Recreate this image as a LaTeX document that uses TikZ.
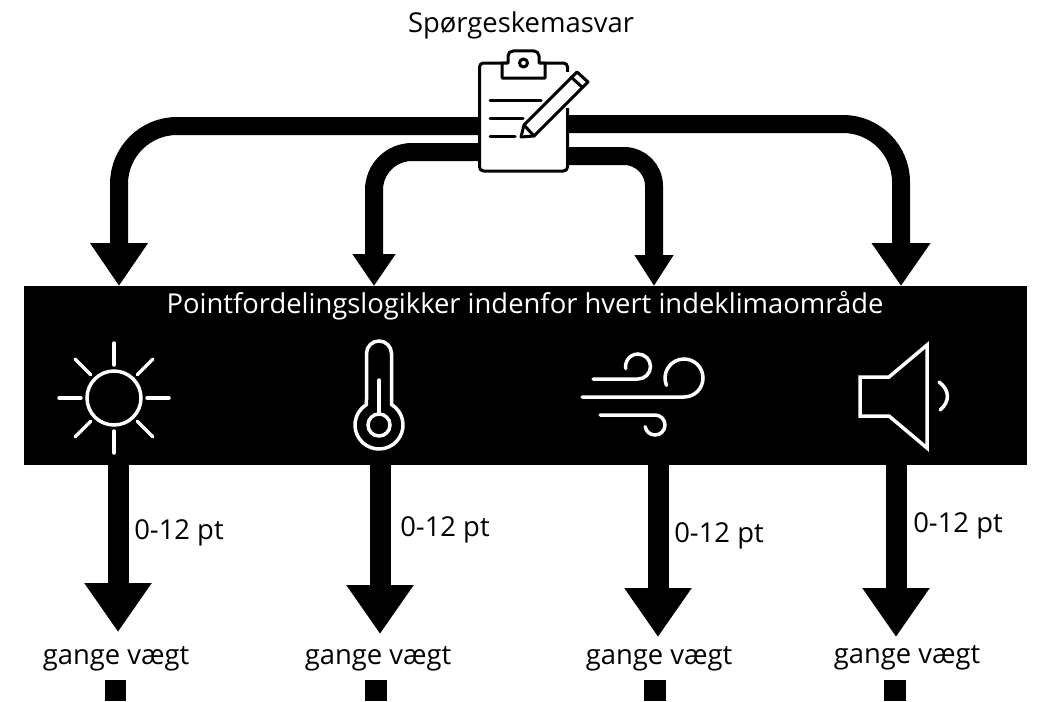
\documentclass[tikz,border=0pt]{standalone}
\usepackage{fontspec}
\setmainfont{Open Sans}
\usetikzlibrary{arrows.meta}
\tikzset{
  txt/.style={inner sep=0pt,font=\fontsize{27.4}{30}\selectfont},
  topline/.style={line width=18pt,rounded corners=#1},
  downline/.style={line width=21pt,-{Triangle[width=64pt,length=49pt]}},
  icon/.style={draw=white,line width=3.5pt,line cap=round},
  board/.style={draw=black,line width=3pt,line cap=round,line join=round}
}
\begin{document}
\begin{tikzpicture}[x=1pt,y=1pt]
   \useasboundingbox (0,0) rectangle (1064,-701);
   \fill[white] (0,0) rectangle (1064,-701);
   \node[txt] (title) at (521,-25) {Spørgeskemasvar};
   % clipboard
   \node[board,fill=white,rounded corners=4pt,minimum width=88pt,minimum height=108pt,inner sep=0pt] (clip) at (523.5,-117) {};
   \node[fill=black,minimum width=1003pt,minimum height=179pt,inner sep=0pt] (bar) at (525.5,-375.5) {};
   \coordinate (a1) at (119,-286);
   \coordinate (a2) at (374,-286);
   \coordinate (a3) at (654,-286);
   \coordinate (a4) at (901,-286);
   \draw[topline=58pt,-{Triangle[width=55pt,length=43pt]}] ([yshift=-9pt]clip.west) -| (a1);
   \draw[topline=38pt,-{Triangle[width=41pt,length=32pt]}] ([yshift=-35pt]clip.west) -| (a2);
   \draw[topline=30pt,-{Triangle[width=37pt,length=31pt]}] ([yshift=-39pt]clip.east) -| (a3);
   \draw[topline=58pt,-{Triangle[width=56pt,length=43pt]}] ([yshift=-7pt]clip.east) -| (a4);
   \fill[white] (566,-72) rectangle (570,-108);
   \draw[board,fill=white] (502,-78) -- (502,-63) -- (508,-63) -- (508,-56) arc (180:90:5)
      -- (534,-51) arc (90:0:5) -- (539,-63) -- (545,-63) -- (545,-78) -- cycle;
   \draw[board] (523.5,-63) circle (4);
   \foreach \y/\e in {100/541,118.5/523,136.5/515}
     \draw[board] (490,-\y) -- (\e,-\y);
   \draw[board,fill=white] (521,-137) -- (524,-125) -- (577,-72) -- (588,-82) -- (534,-136) -- cycle;
   \draw[board] (524,-125) -- (534,-136) (571,-77) -- (582,-87);
   % white text and icons on the bar
   \node[txt,text=white] (head) at (525,-306) {Pointfordelingslogikker indenfor hvert indeklimaområde};
   % sun
   \draw[icon] (114,-398) circle (27);
   \foreach \a in {0,45,...,315}
     \draw[icon] ([shift={(\a:33)}]114,-398) -- ([shift={(\a:55)}]114,-398);
   % thermometer
   \draw[icon] (366.5,-353.5) arc (180:0:12.5) -- (391.5,-404.5) arc (58.6:-238.6:24) -- cycle;
   \draw[icon] (379,-425) circle (11);
   \draw[icon] (379,-380) -- (379,-414);
   % wind
   \draw[icon] (593,-379) -- (638,-379) arc (-90:190:12.5);
   \draw[icon] (582,-397) -- (684,-397) arc (-90:203:19);
   \draw[icon] (600,-415) -- (655,-415) arc (90:-170:10);
   % speaker
   \draw[icon,line join=miter,line cap=butt] (860,-377) -- (889,-377) -- (927,-345) -- (927,-448) -- (889,-416) -- (860,-416) -- cycle;
   \draw[icon] (939,-382) .. controls (950,-390) and (950,-402) .. (940,-410);
   % scores and weights
   \foreach \i/\x/\yend/\px/\py/\gx/\gy/\sx in
     { 1/118/632/179/533/116/659/115.5,
       2/380/634/445/530/378/659/376,
       3/658/637/719/536/659/659/655,
       4/896/637/958/526/907/658/895
     }
   {
     \node[txt] (pt\i) at (\px,-\py) {0-12 pt};
     \node[txt] (gange\i) at (\gx,-\gy) {gange vægt};
     \coordinate (tip\i) at (\x,-\yend);
     \draw[downline] (bar.south -| tip\i) -- (tip\i);
     \coordinate (stub\i) at (\sx,-680);
     \draw[line width=21.5pt] (stub\i) -- (\sx,-701);
   }
\end{tikzpicture}
\end{document}
